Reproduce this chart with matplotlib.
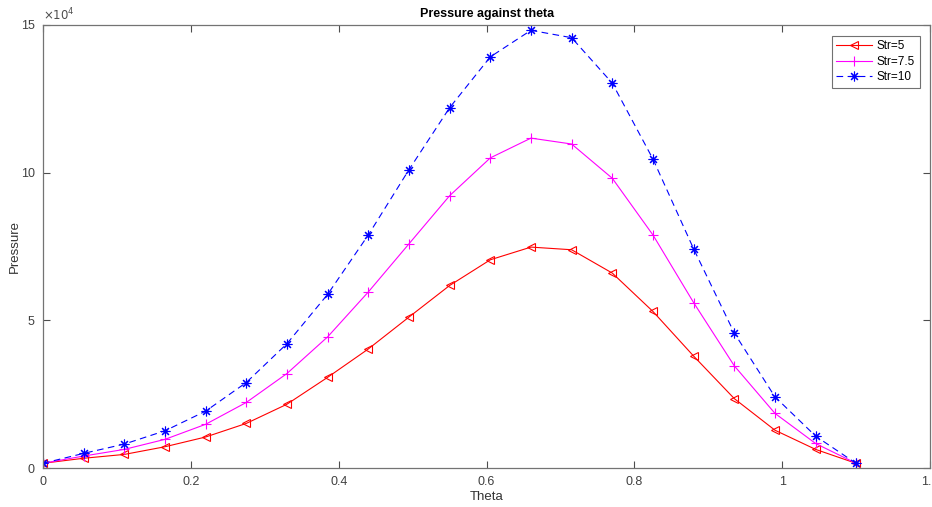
import matplotlib
matplotlib.use('Agg')
import matplotlib.pyplot as plt

# Data (pressure in Pa, theta in rad)
theta = [0.0, 0.055, 0.11, 0.165, 0.22, 0.275, 0.33, 0.385, 0.44, 0.495, 0.55,
         0.605, 0.66, 0.715, 0.77, 0.825, 0.88, 0.935, 0.99, 1.045, 1.0996]
p_str5 = [1600, 3300, 4600, 7200, 10500, 15100, 21600, 30700, 40300, 51100, 61800,
          70500, 74800, 73900, 66000, 53000, 37900, 23500, 12800, 6300, 1600]
p_str75 = [1600, 4050, 6300, 9700, 14800, 22200, 32000, 44400, 59600, 75900, 92200,
           105000, 111700, 109700, 98100, 78900, 56000, 34600, 18500, 8300, 1600]
p_str10 = [1600, 4950, 8100, 12600, 19250, 28950, 42100, 58800, 78900, 101000, 122000,
           139200, 148200, 145700, 130300, 104600, 74200, 45700, 24100, 10800, 1600]

x_ticks = [0, 0.2, 0.4, 0.6, 0.8, 1.0, 1.2]
x_tick_labels = ['0', '0.2', '0.4', '0.6', '0.8', '1', '1.2']
y_ticks = [0, 50000, 100000, 150000]
y_tick_labels = ['0', '5', '10', '15']

plt.rcParams['font.family'] = ['Liberation Sans', 'DejaVu Sans']

fig = plt.figure(figsize=(9.32, 5.07), dpi=100)
ax = fig.add_axes([0.0461, 0.0769, 0.952, 0.8738])

# MATLAB style '*' marker = 8 armed asterisk
ax.plot(theta, p_str5, color='red', linestyle='-', linewidth=0.8, marker='<',
        markersize=6, fillstyle='none', markeredgewidth=0.8, label='Str=5')
ax.plot(theta, p_str75, color='magenta', linestyle='-', linewidth=0.8, marker='+',
        markersize=7, markeredgewidth=0.8, label='Str=7.5')
ax.plot(theta, p_str10, color='blue', linestyle=(0, (6, 4)), linewidth=0.8,
        marker=(8, 2, 0), markersize=7, markeredgewidth=0.8, label='Str=10')

ax.set_xlim(0, 1.2)
ax.set_ylim(0, 150000)
ax.set_xticks(x_ticks)
ax.set_xticklabels(x_tick_labels)
ax.set_yticks(y_ticks)
ax.set_yticklabels(y_tick_labels)

# box with inward ticks on all sides
ax.tick_params(direction='in', length=5, width=0.8, colors='0.3', labelsize=9,
               top=True, right=True, pad=6)
ax.tick_params(axis='x', labelcolor='0.25')
ax.tick_params(axis='y', labelcolor='0.25')
for s in ax.spines.values():
    s.set_color('0.45')
    s.set_linewidth(0.9)

ax.text(0.0, 1.003, r'$\times10^4$', transform=ax.transAxes, ha='left', va='bottom',
        fontsize=8.5, color='0.3')

ax.set_xlabel('Theta', fontsize=9.5, color='0.2', labelpad=2)
ax.set_ylabel('Pressure', fontsize=9.5, color='0.2', labelpad=0)
ax.set_title('Pressure against theta', fontsize=9, fontweight='bold', pad=6)

leg = ax.legend(loc='upper right', fontsize=8.5, frameon=True, fancybox=False,
                edgecolor='0.3', handlelength=3.0, borderaxespad=0.9,
                labelspacing=0.3, borderpad=0.4, handletextpad=0.4)
leg.get_frame().set_linewidth(0.8)

fig.savefig('out.png', dpi=100)
